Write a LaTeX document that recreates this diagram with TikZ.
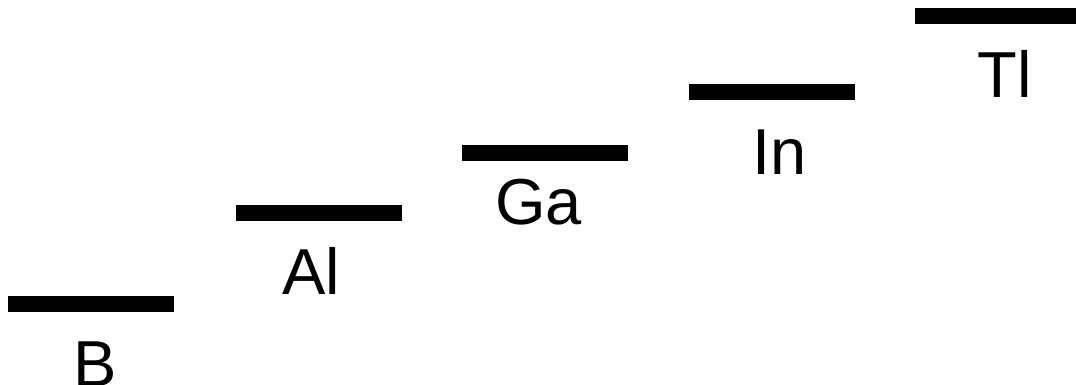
\documentclass[tikz,border=0pt]{standalone}
\usepackage{fontspec}
\setmainfont{Liberation Sans}
\begin{document}
\begin{tikzpicture}[
  x=1pt, y=-1pt,
  level/.style={fill=black, inner sep=0pt, minimum width=166pt, minimum height=16pt},
  elem/.style={anchor=base, inner sep=0pt, font=\fontsize{65}{78}\selectfont}
]
\useasboundingbox (0,0) rectangle (1076,385);

\node[level] (lB) at (91,304) {};
\node[level] (lAl) at (318.5,213) {};
\node[level] (lGa) at (545,153) {};
\node[level] (lIn) at (771.5,92.5) {};
\node[level] (lTl) at (998,16.5) {};

\node[elem] (tB) at (95,386) {B};
\node[elem] (tAl) at (311,294) {Al};
\node[elem] (tGa) at (538.5,224) {Ga};
\node[elem] (tIn) at (780,174) {In};
\node[elem] (tTl) at (1005,98) {Tl};
\end{tikzpicture}
\end{document}
